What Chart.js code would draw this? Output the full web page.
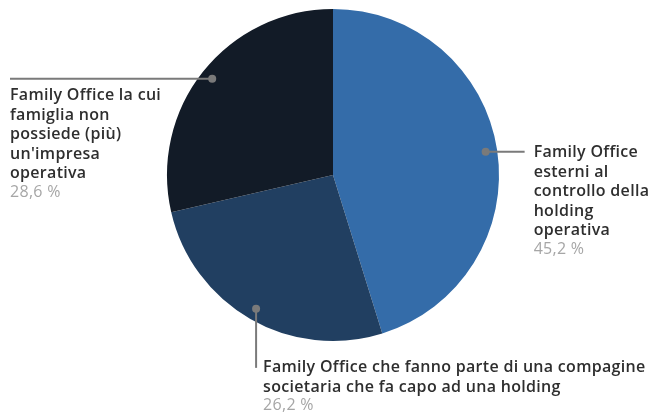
<!DOCTYPE html>
<html>
<head>
<meta charset="utf-8">
<script src="https://cdn.jsdelivr.net/npm/chart.js@4"></script>
<style>
  html, body { margin: 0; padding: 0; background: #fff; }
  #wrap { width: 656px; height: 415px; }
</style>
</head>
<body>
<div id="wrap"><canvas id="pieChart" width="656" height="415"></canvas></div>
<script>
// slices, clockwise from 12 o'clock
const labels = [
  ["Family Office", "esterni al", "controllo della", "holding", "operativa"],
  ["Family Office che fanno parte di una compagine", "societaria che fa capo ad una holding"],
  ["Family Office la cui", "famiglia non", "possiede (più)", "un'impresa", "operativa"],
];
const values = [45.2, 26.2, 28.6];
const colors = ["#346ca9", "#213f61", "#121b27"];
const labelSide = ["right", "bottom", "left"];

const fontFamily = "'Open Sans', sans-serif";

const leaderLabels = {
  id: "leaderLabels",
  afterDraw(chart) {
    const ctx = chart.ctx;
    const meta = chart.getDatasetMeta(0);
    meta.data.forEach((arc, i) => {
      const mid = (arc.startAngle + arc.endAngle) / 2;
      const r = arc.outerRadius * 0.93;
      const dx = arc.x + Math.cos(mid) * r;
      const dy = arc.y + Math.sin(mid) * r;
      const side = labelSide[i];

      let ex = dx, ey = dy, tx, ty;
      if (side === "right") {
        ex = dx + 39;
        tx = ex + 9;
        ty = dy + 1;
      } else if (side === "left") {
        ex = 10;
        tx = 10;
        ty = dy + 17;
      } else {
        ey = dy + 59;
        tx = dx + 7;
        ty = ey;
      }

      ctx.save();
      ctx.strokeStyle = "#7a7a7a";
      ctx.lineWidth = 2;
      ctx.beginPath();
      ctx.moveTo(dx, dy);
      ctx.lineTo(ex, ey);
      ctx.stroke();
      ctx.fillStyle = "#7a7a7a";
      ctx.beginPath();
      ctx.arc(dx, dy, 4, 0, Math.PI * 2);
      ctx.fill();

      ctx.textAlign = "left";
      ctx.textBaseline = "middle";
      ctx.letterSpacing = "0.3px";
      ctx.fillStyle = "#2e2e2e";
      ctx.font = "600 16px " + fontFamily;
      const lines = labels[i];
      lines.forEach((line, k) => {
        ctx.fillText(line, tx, ty + k * 19.5);
      });
      ctx.fillStyle = "#a6a6a6";
      ctx.font = "400 16px " + fontFamily;
      ctx.fillText(values[i].toFixed(1).replace(".", ",") + " %", tx, ty + lines.length * 19.5 - 1);
      ctx.restore();
    });
  },
};

new Chart(document.getElementById("pieChart"), {
  type: "pie",
  data: {
    labels: labels.map((l) => l.join(" ")),
    datasets: [
      {
        data: values,
        backgroundColor: colors,
        borderWidth: 0,
      },
    ],
  },
  options: {
    responsive: false,
    animation: false,
    layout: {
      padding: { top: 9, bottom: 74, left: 110, right: 100 },
    },
    plugins: {
      legend: { display: false },
      tooltip: { enabled: false },
    },
  },
  plugins: [leaderLabels],
});
</script>
</body>
</html>
